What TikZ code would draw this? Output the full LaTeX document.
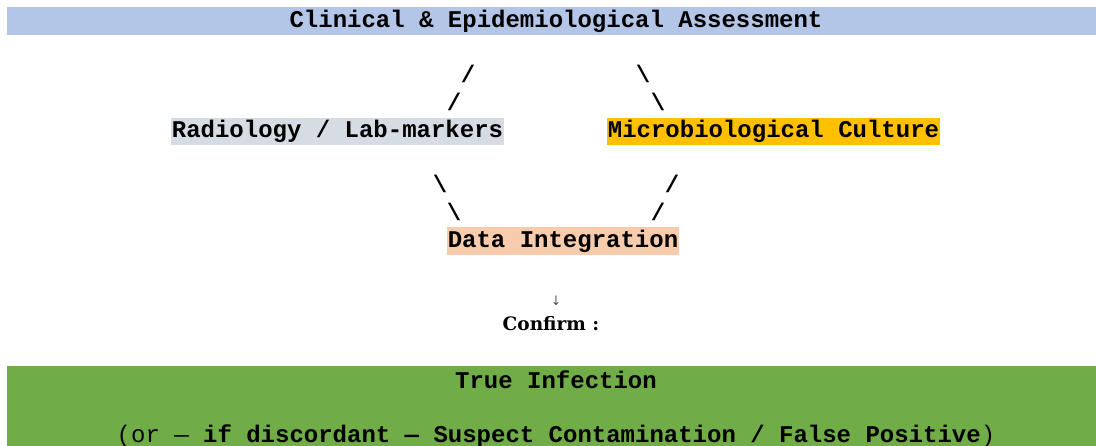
\documentclass[tikz,border=0pt]{standalone}
\usepackage{fontspec}
\setmonofont{Liberation Mono}
\newfontfamily\confont{DejaVu Serif}
\newfontfamily\symfont{DejaVu Sans}
\definecolor{topblue}{HTML}{B4C6E7}
\definecolor{radgray}{HTML}{D6DCE4}
\definecolor{microyel}{HTML}{FFC000}
\definecolor{datapeach}{HTML}{F8CBAD}
\definecolor{truegreen}{HTML}{70AD47}
\definecolor{arrowgray}{HTML}{595959}
\tikzset{
  band/.style={inner sep=0pt, anchor=north west, draw=none},
  mono/.style={inner sep=0pt, anchor=base, font=\ttfamily\bfseries\fontsize{24}{28}\selectfont},
  slash/.style={mono},
}
\begin{document}
\begin{tikzpicture}[x=1pt,y=-1pt]
\useasboundingbox (0,0) rectangle (1096,445);
% bands and boxes
\node[band, fill=topblue, minimum width=1089pt, minimum height=28pt] (topbox) at (7,7) {};
\node[band, fill=radgray, minimum width=333pt, minimum height=27pt] (radbox) at (171,118) {};
\node[band, fill=microyel, minimum width=333pt, minimum height=27pt] (microbox) at (607,118) {};
\node[band, fill=datapeach, minimum width=232pt, minimum height=28pt] (databox) at (447,227) {};
\node[band, fill=truegreen, minimum width=1089pt, minimum height=80pt] (greenbox) at (7,366) {};
% texts
\node[mono] (toptxt) at (556,27) {Clinical \& Epidemiological Assessment};
\node[mono] (radtxt) at (337.5,137.5) {Radiology / Lab-markers};
\node[mono] (microtxt) at (773.5,137.5) {Microbiological Culture};
\node[mono] (datatxt) at (563,247.5) {Data Integration};
% slash connectors
\node[slash] (s1) at (468,82.5) {/};
\node[slash] (s2) at (454,110) {/};
\node[slash] (s3) at (643,82.5) {\textbackslash};
\node[slash] (s4) at (658,110) {\textbackslash};
\node[slash] (s5) at (440,192.5) {\textbackslash};
\node[slash] (s6) at (454,220) {\textbackslash};
\node[slash] (s7) at (672,192.5) {/};
\node[slash] (s8) at (658,220) {/};
% arrow and confirm
\node[inner sep=0pt, anchor=base, text=arrowgray, font=\symfont\fontsize{13}{15}\selectfont] (arr) at (556,305) {↓};
\node[inner sep=0pt, anchor=base, font=\confont\bfseries\fontsize{18.5}{22}\selectfont] (confirm) at (551,330.5) {Confirm :};
% bottom texts
\node[mono] (truetxt) at (556,388) {True Infection};
\node[mono] (alttxt) at (556,442) {\mdseries(or — \bfseries if discordant — Suspect Contamination / False Positive\mdseries)};
\end{tikzpicture}
\end{document}
